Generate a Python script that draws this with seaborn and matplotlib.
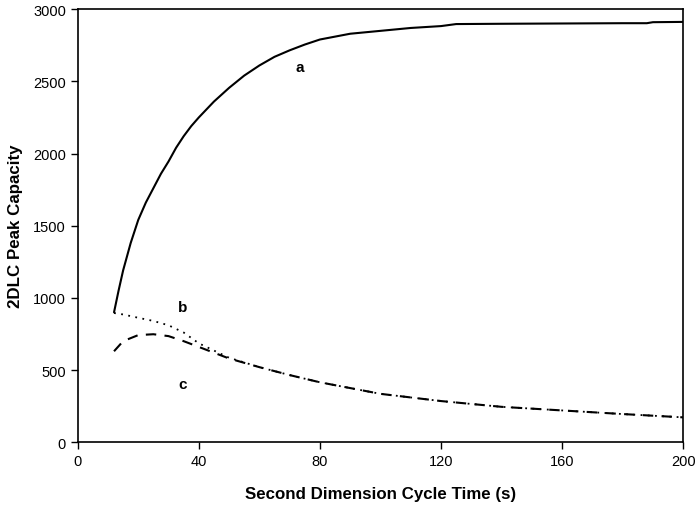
import matplotlib
matplotlib.use("Agg")
import matplotlib.pyplot as plt
import pandas as pd
import seaborn as sns

# ── Data ─────────────────────────────────────────────────────────────────────
CYCLE_A = [12, 13.5, 15, 17.5, 20, 22.5, 25, 27.5, 30, 32.5, 35, 37.5, 40,
           45, 50, 55, 60, 65, 70, 75, 80, 90, 100, 110, 120, 125, 140, 160,
           180, 188, 190, 200]
PEAK_A = [900, 1050, 1190, 1380, 1540, 1660, 1760, 1860, 1945, 2040, 2120,
          2190, 2250, 2360, 2455, 2540, 2610, 2670, 2715, 2755, 2790, 2830,
          2850, 2870, 2883, 2897, 2899, 2901, 2903, 2903, 2910, 2912]

CYCLE_BC = [12, 15, 20, 25, 30, 35, 40, 50, 60, 70, 80, 90, 100, 120, 140,
            160, 180, 200]
PEAK_B = [895, 885, 862, 840, 810, 760, 685, 585, 520, 465, 415, 375, 335,
          285, 245, 220, 195, 172]
PEAK_C = [630, 700, 742, 748, 735, 700, 660, 580, 520, 465, 415, 375, 335,
          285, 245, 220, 195, 172]

LABELS = ["a", "b", "c"]
LABEL_POS = [(73.5, 2600), (34.5, 940), (34.5, 400)]

X_TICKS = [0, 40, 80, 120, 160, 200]
Y_TICKS = [0, 500, 1000, 1500, 2000, 2500, 3000]

# ── Style ────────────────────────────────────────────────────────────────────
sns.set_style("ticks")
plt.rcParams["font.family"] = ["Liberation Sans", "DejaVu Sans"]
for key in ["text.color", "axes.labelcolor", "xtick.color", "ytick.color"]:
    plt.rcParams[key] = "black"

fig, ax = plt.subplots(figsize=(7, 5.1), dpi=100)
fig.subplots_adjust(left=0.111, right=0.976, top=0.980, bottom=0.131)

df_a = pd.DataFrame({"t": CYCLE_A, "n": PEAK_A})
df_b = pd.DataFrame({"t": CYCLE_BC, "n": PEAK_B})
df_c = pd.DataFrame({"t": CYCLE_BC, "n": PEAK_C})

sns.lineplot(data=df_a, x="t", y="n", ax=ax, color="black", linewidth=1.5)
sns.lineplot(data=df_b, x="t", y="n", ax=ax, color="black", linewidth=1.3,
             linestyle=(0, (1, 3)))
sns.lineplot(data=df_c, x="t", y="n", ax=ax, color="black", linewidth=1.5,
             linestyle=(0, (5, 4)))

for lab, (x, y) in zip(LABELS, LABEL_POS):
    ax.text(x, y, lab, fontsize=11, fontweight="bold", ha="center", va="center")

ax.set_xlim(0, 200)
ax.set_ylim(0, 3000)
ax.set_xticks(X_TICKS)
ax.set_yticks(Y_TICKS)
ax.tick_params(labelsize=10.5, length=5, width=1, color="black",
               labelcolor="black")
for s in ax.spines.values():
    s.set_linewidth(1.2)
    s.set_color("black")

ax.set_xlabel("Second Dimension Cycle Time (s)", fontsize=12.2,
              fontweight="bold", labelpad=13)
ax.set_ylabel("2DLC Peak Capacity", fontsize=12.2, fontweight="bold",
              labelpad=7)

fig.savefig("out.png", dpi=100)
plt.close(fig)
